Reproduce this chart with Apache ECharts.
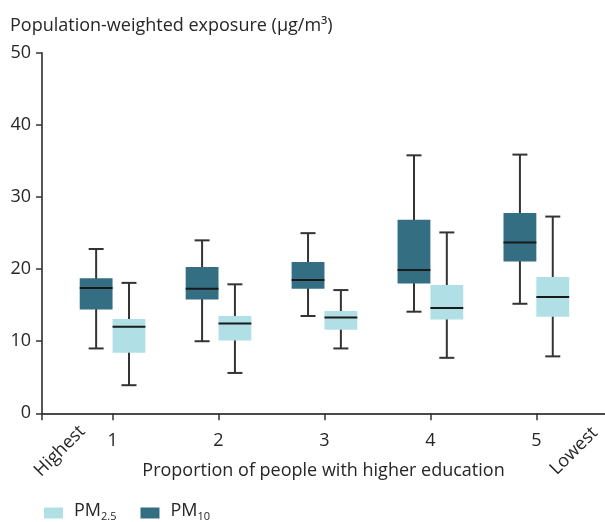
<!DOCTYPE html>
<html>
<head>
<meta charset="utf-8">
<script src="https://cdn.jsdelivr.net/npm/echarts@6/dist/echarts.min.js"></script>
<style>html,body{margin:0;padding:0;background:#fff}#chart{width:605px;height:522px}</style>
</head>
<body>
<div id="chart"></div>
<script>
// Data
var categories = [1, 2, 3, 4, 5];
var yTicks = [0, 10, 20, 30, 40, 50];
var pm10Min = [9.0, 10.0, 13.5, 14.1, 15.2];
var pm10Q1 = [14.4, 15.8, 17.3, 18.0, 21.05];
var pm10Median = [17.4, 17.3, 18.5, 19.9, 23.7];
var pm10Q3 = [18.75, 20.3, 21.0, 26.85, 27.8];
var pm10Max = [22.8, 24.0, 25.0, 35.8, 35.9];
var pm25Min = [3.9, 5.6, 9.0, 7.7, 7.9];
var pm25Q1 = [8.4, 10.1, 11.6, 13.0, 13.4];
var pm25Median = [12.0, 12.45, 13.3, 14.6, 16.15];
var pm25Q3 = [13.1, 13.5, 14.2, 17.8, 18.9];
var pm25Max = [18.1, 17.9, 17.1, 25.1, 27.3];

var DARK = '#346e82', LIGHT = '#b0e0e6', TEXT = '#262626';
var FONT = '"Open Sans", "Noto Sans", sans-serif';
var FS = 18;
var X_MIN = 0.334, X_MAX = 5.648;

function build(mins, q1, med, q3, maxs) {
  return categories.map(function (c, i) { return [c, mins[i], q1[i], med[i], q3[i], maxs[i]]; });
}

function makeRender(offset, fill) {
  return function (params, api) {
    var x = api.value(0) + offset;
    var lo = api.coord([x, api.value(1)]);
    var b1 = api.coord([x, api.value(2)]);
    var md = api.coord([x, api.value(3)]);
    var b3 = api.coord([x, api.value(4)]);
    var hi = api.coord([x, api.value(5)]);
    var halfW = api.size([0.31, 0])[0] / 2;
    var cap = 7.5;
    var cx = lo[0];
    var wStyle = { stroke: '#333', lineWidth: 2, fill: null };
    return {
      type: 'group',
      children: [
        { type: 'line', shape: { x1: cx, y1: hi[1], x2: cx, y2: lo[1] }, style: wStyle },
        { type: 'line', shape: { x1: cx - cap, y1: hi[1], x2: cx + cap, y2: hi[1] }, style: wStyle },
        { type: 'line', shape: { x1: cx - cap, y1: lo[1], x2: cx + cap, y2: lo[1] }, style: wStyle },
        { type: 'rect', shape: { x: cx - halfW, y: b3[1], width: halfW * 2, height: b1[1] - b3[1] }, style: { fill: fill } },
        { type: 'line', shape: { x1: cx - halfW, y1: md[1], x2: cx + halfW, y2: md[1] }, style: { stroke: '#1a1a1a', lineWidth: 2 } }
      ]
    };
  };
}

var chart = echarts.init(document.getElementById('chart'), null, { renderer: 'canvas' });
chart.setOption({
  animation: false,
  textStyle: { fontFamily: FONT },
  grid: { left: 42, right: 0, top: 53, bottom: 108.7, containLabel: false },
  title: {
    text: 'Population-weighted exposure (µg/m³)',
    left: 5, top: 12,
    textStyle: { fontSize: FS, fontWeight: 'normal', color: TEXT, fontFamily: FONT }
  },
  legend: {
    left: 44, top: 502, padding: 0,
    itemWidth: 19, itemHeight: 11, itemGap: 24,
    icon: 'rect',
    data: ['PM2.5', 'PM10'],
    formatter: function (name) {
      return '{a|PM}{b|' + name.slice(2) + '}';
    },
    textStyle: {
      color: TEXT,
      rich: {
        a: { fontSize: FS, color: TEXT, fontFamily: FONT, lineHeight: 22, verticalAlign: 'top', padding: [0, 0, 0, 6] },
        b: { fontSize: 11, color: TEXT, fontFamily: FONT, lineHeight: 13, verticalAlign: 'top', padding: [9, 0, 0, 0] }
      }
    }
  },
  xAxis: {
    type: 'value', min: X_MIN, max: X_MAX,
    name: 'Proportion of people with higher education',
    nameLocation: 'middle', nameGap: 49,
    nameTextStyle: { fontSize: FS, color: TEXT, fontFamily: FONT },
    splitLine: { show: false },
    axisLine: { show: true, lineStyle: { color: '#111', width: 1.5 } },
    axisTick: { show: true, length: 7, customValues: [X_MIN].concat(categories), lineStyle: { color: '#333', width: 1.5 } },
    axisLabel: { customValues: categories, margin: 19, fontSize: FS, color: TEXT, fontFamily: FONT }
  },
  yAxis: {
    type: 'value', min: 0, max: 50, interval: 10,
    splitLine: { show: false },
    axisLine: { show: true, lineStyle: { color: '#555', width: 2 } },
    axisTick: { show: true, length: 6, lineStyle: { color: '#333', width: 1.5 } },
    axisLabel: {
      margin: 11, fontSize: FS, color: TEXT, fontFamily: FONT,
      formatter: function (v) { return yTicks.indexOf(v) >= 0 ? String(v) : ''; }
    }
  },
  graphic: [
    { type: 'text', x: 60, y: 451, rotation: Math.PI / 4,
      style: { text: 'Highest', fontSize: FS, fontFamily: FONT, fill: TEXT, align: 'center', verticalAlign: 'middle' } },
    { type: 'text', x: 574, y: 451, rotation: Math.PI / 4,
      style: { text: 'Lowest', fontSize: FS, fontFamily: FONT, fill: TEXT, align: 'center', verticalAlign: 'middle' } }
  ],
  series: [
    {
      name: 'PM10', type: 'custom', itemStyle: { color: DARK },
      renderItem: makeRender(-0.155, DARK),
      encode: { x: 0, y: [1, 2, 3, 4, 5] },
      data: build(pm10Min, pm10Q1, pm10Median, pm10Q3, pm10Max)
    },
    {
      name: 'PM2.5', type: 'custom', itemStyle: { color: LIGHT },
      renderItem: makeRender(0.155, LIGHT),
      encode: { x: 0, y: [1, 2, 3, 4, 5] },
      data: build(pm25Min, pm25Q1, pm25Median, pm25Q3, pm25Max)
    }
  ]
});
</script>
</body>
</html>
